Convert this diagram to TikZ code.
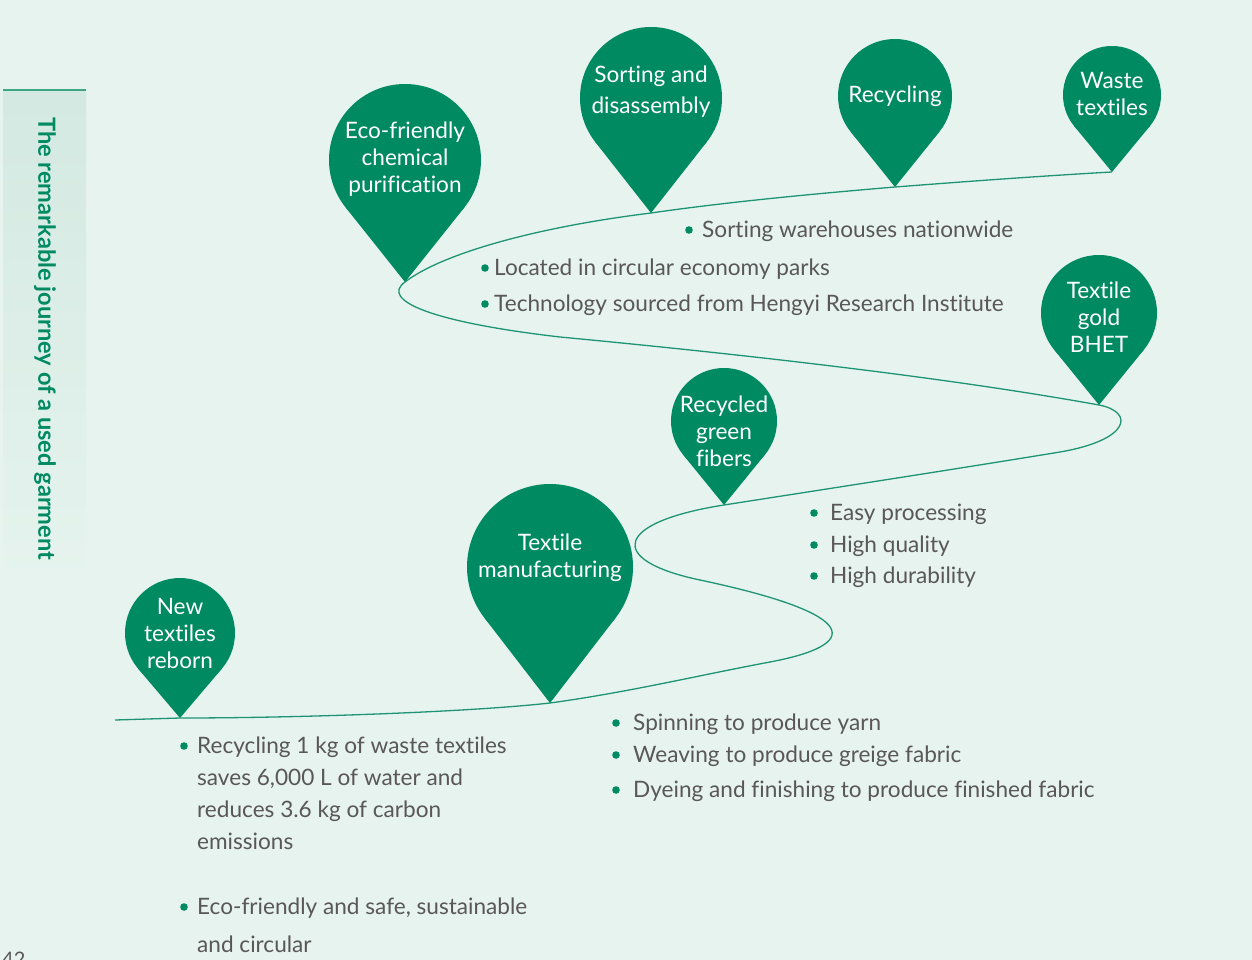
\documentclass[tikz,border=0pt]{standalone}
\usepackage{fontspec}
\setmainfont[Ligatures={NoCommon}]{Lato}
\definecolor{bgc}{HTML}{E6F3EE}
\definecolor{pinc}{HTML}{008A62}
\definecolor{linec}{HTML}{1F9473}
\definecolor{txtc}{HTML}{595757}
\definecolor{sidec}{HTML}{D3E9E1}
\definecolor{sidel}{HTML}{3CA781}
\newcommand\pinmark[5]{% cx, cy, r, d, unused
  \pgfmathsetmacro\pinA{#3*sqrt(1-(#3/#4)^2)}%
  \pgfmathsetmacro\pinB{#3*#3/#4}%
  \fill[pinfill] (#1,#2) circle[radius=#3pt];
  \fill[pinfill] (#1,#2+#4) -- (#1-\pinA,#2+\pinB) -- (#1+\pinA,#2+\pinB) -- cycle;
}
\newcommand\bitem[5]{% name, dot x, dot y, text x, text
  \fill[dotc] (#2,#3) circle[radius=3.8pt];
  \node[item] (#1) at (#4,#3+7) {#5};
}
\begin{document}
\begin{tikzpicture}[x=1pt,y=-1pt,
  pinfill/.style={fill=pinc},
  pintext/.style={text=white, align=center, font=\fontsize{22.6}{27}\selectfont, inner sep=0pt},
  item/.style={text=txtc, anchor=base west, font=\fontsize{22.6}{27}\selectfont, inner sep=0pt},
  dotc/.style={fill=pinc},
  journey/.style={draw=linec, line width=1.3pt}]
\fill[bgc] (0,0) rectangle (1252,960);
\useasboundingbox (0,0) rectangle (1252,960);
% sidebar
\shade[top color=sidec, bottom color=bgc] (3,90) rectangle (86,580);
\draw[sidel, line width=2pt] (3,90) -- (86,90);
\node[rotate=-90, anchor=west, text=pinc, inner sep=0pt, font=\fontsize{23.6}{28}\selectfont\bfseries] (side) at (45,117) {The remarkable journey of a used garment};
\node[anchor=base west, text=txtc, inner sep=0pt, font=\fontsize{20}{24}\selectfont] (pagenum) at (2,966) {42};
% tips and waypoints
\coordinate (tipwaste) at (1112,172);
\coordinate (tiprecyc) at (895,187);
\coordinate (tipsort) at (651,213);
\coordinate (tipeco) at (405,282);
\coordinate (tipbhet) at (1099,405);
\coordinate (tipfibers) at (724,505);
\coordinate (tipmanuf) at (550,703);
\coordinate (tipnewt) at (180,718);
\coordinate (c1) at (560,337);
\coordinate (c2) at (1060,452);
\coordinate (c3) at (700,580);
\coordinate (c4) at (770,662);
\coordinate (endL) at (115,720);
\draw[journey] (tipwaste) .. controls (1040,176) and (960,182) .. (tiprecyc)
  .. controls (800,195) and (720,203) .. (tipsort)
  .. controls (530,228) and (440,255) .. (tipeco)
  .. controls (380,300) and (430,322) .. (c1)
  .. controls (750,355) and (950,378) .. (tipbhet)
  .. controls (1135,412) and (1130,440) .. (c2)
  .. controls (950,470) and (820,490) .. (tipfibers)
  .. controls (615,522) and (605,560) .. (c3)
  .. controls (865,615) and (860,645) .. (c4)
  .. controls (700,675) and (630,692) .. (tipmanuf)
  .. controls (470,712) and (300,718) .. (tipnewt) -- (endL);
% pins
\pinmark{1112}{95}{49}{77}{}
\pinmark{895}{96}{57}{91}{}
\pinmark{651}{98}{71}{115}{}
\pinmark{405}{160}{76}{122}{}
\pinmark{1099}{313}{58}{92}{}
\pinmark{724}{421}{53}{84}{}
\pinmark{550}{567}{83}{136}{}
\pinmark{180}{633}{55}{85}{}
\node[pintext] (waste) at (1112,94) {Waste\\textiles};
\node[pintext] (recyc) at (895,96) {Recycling};
\node[pintext, font=\fontsize{22.6}{31}\selectfont] (sort) at (651,92) {Sorting and\\disassembly};
\node[pintext] (eco) at (405,159) {Eco-friendly\\chemical\\purification};
\node[pintext] (bhet) at (1099,317) {Textile\\gold\\BHET};
\node[pintext] (fibers) at (724,431) {Recycled\\green\\fibers};
\node[pintext] (manuf) at (550,558) {Textile\\manufacturing};
\node[pintext] (newt) at (180,633) {New\\textiles\\reborn};
% bullets
\bitem{sortw}{689}{230}{702}{Sorting warehouses nationwide}
\bitem{located}{485}{268}{494}{Located in circular economy parks}
\bitem{tech}{485}{304}{494}{Technology sourced from Hengyi Research Institute}
\bitem{easy}{814}{513}{830}{Easy processing}
\bitem{highq}{814}{545}{830}{High quality}
\bitem{highd}{814}{576}{830}{High durability}
\bitem{spin}{616}{723}{633}{Spinning to produce yarn}
\bitem{weave}{616}{755}{633}{Weaving to produce greige fabric}
\bitem{dye}{616}{790}{633}{Dyeing and finishing to produce finished fabric}
\bitem{reca}{184}{746}{197}{Recycling 1 kg of waste textiles}
\node[item] (recb) at (197,785) {saves 6,000 L of water and};
\node[item] (recc) at (197,817) {reduces 3.6 kg of carbon};
\node[item] (recd) at (197,849) {emissions};
\bitem{safea}{184}{907}{197}{Eco-friendly and safe, sustainable}
\node[item] (safeb) at (197,952) {and circular};
\end{tikzpicture}
\end{document}
